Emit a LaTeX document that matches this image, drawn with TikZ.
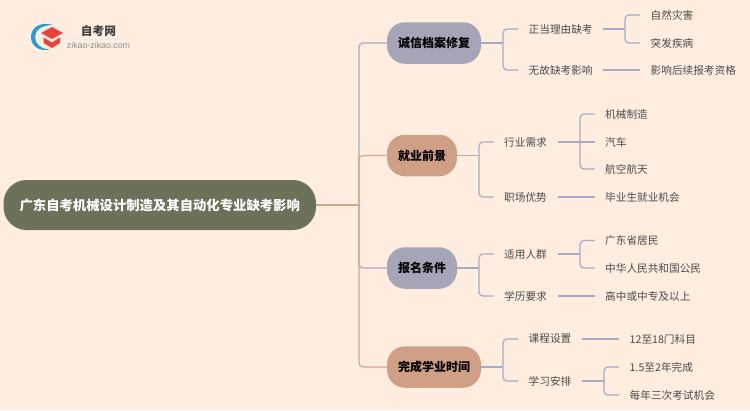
\documentclass[tikz,border=0pt]{standalone}
\usepackage{fontspec}
\usepackage{xcolor}
\setmainfont{Noto Sans CJK SC}
\setsansfont{Liberation Sans}
\definecolor{paper}{HTML}{FFEEE0}
\definecolor{rootgreen}{HTML}{6B7259}
\definecolor{hubblue}{HTML}{A6A5B8}
\definecolor{huborange}{HTML}{CF9F86}
\definecolor{wireblue}{HTML}{A6ABC6}
\definecolor{wireorange}{HTML}{D4A78C}
\definecolor{leafgrey}{HTML}{4A4A4A}
\definecolor{logoblue}{HTML}{2A9BD0}
\definecolor{logored}{HTML}{E8433F}
\tikzset{
    rootbox/.style={fill=rootgreen, rounded corners=23pt, minimum width=312.5pt, minimum height=50pt,
        text=white, font=\fontsize{13.35}{15}\selectfont\bfseries, inner sep=0pt},
    hubbox/.style={rounded corners=18pt, minimum height=41.5pt, inner sep=0pt,
        text=black, font=\fontsize{12}{14}\selectfont\bfseries},
    leaf/.style={anchor=west, inner xsep=10.5pt, inner ysep=0pt, text=leafgrey,
        font=\fontsize{10.65}{13}\selectfont},
    bluewire/.style={draw=wireblue, line width=1.2pt, rounded corners=4pt},
    orangewire/.style={draw=wireorange, line width=1.2pt, rounded corners=4pt}
}
\begin{document}
\begin{tikzpicture}[x=1pt, y=-1pt]
        \useasboundingbox (0,0) rectangle (750,410);
        \fill[paper] (0,0) rectangle (750,410);

        % Logo
        \fill[logoblue] (53,25) .. controls (38,21) and (31,29) .. (31,37) .. controls (31,45) and (38,52) .. (50,49.5)
            .. controls (41,49) and (35,44) .. (35,37) .. controls (35,30) and (42,25) .. (53,25) -- cycle;
        \fill[logored] (52,27) -- (63,33) -- (52,39) -- (41,33) -- cycle;
        \fill[logored] (43.5,37.5) -- (52,42.5) -- (60,37.5) -- (60,43) -- (52,48) -- (43.5,43) -- cycle;
        \node[text=black!75, font=\fontsize{11.7}{13}\selectfont\bfseries] (logoname) at (98.5,31) {自考网};
        \node[text=black!45, font=\sffamily\fontsize{8.8}{10}\selectfont] (logourl) at (98.5,45) {zikao-zikao.com};
        \draw[black!8, line width=0.6pt] (66,39) -- (131,39);

        % Nodi centrali
        \node[rootbox] (root) at (159.75,205) {广东自考机械设计制造及其自动化专业缺考影响};
        \node[hubbox, fill=hubblue, minimum width=94pt] (credit) at (434,43) {诚信档案修复};
        \node[hubbox, fill=huborange, minimum width=70pt] (career) at (422,155.5) {就业前景};
        \node[hubbox, fill=hubblue, minimum width=70pt] (signup) at (422,268) {报名条件};
        \node[hubbox, fill=huborange, minimum width=94pt] (finish) at (434,367) {完成学业时间};

        % Colonne delle linee
        \coordinate (mainbus) at (359,205);
        \coordinate (creditbus) at (503,43);
        \coordinate (careerbus) at (479,155.5);
        \coordinate (signupbus) at (479,268);
        \coordinate (finishbus) at (503,367);
        \coordinate (reasonbus) at (625,29);
        \coordinate (demandbus) at (580,142);
        \coordinate (crowdbus) at (580,254);
        \coordinate (planbus) at (604,381);

        % Primo ramo
        \node[leaf] (reason) at (518,29) {正当理由缺考};
        \node[leaf] (noreason) at (518,70) {无故缺考影响};
        \node[leaf] (disaster) at (640,15) {自然灾害};
        \node[leaf] (illness) at (640,43) {突发疾病};
        \node[leaf] (later) at (640,70) {影响后续报考资格};

        % Secondo ramo
        \node[leaf] (demand) at (493.5,142) {行业需求};
        \node[leaf] (edge) at (493.5,197) {职场优势};
        \node[leaf] (machine) at (594.5,114) {机械制造};
        \node[leaf] (car) at (594.5,142) {汽车};
        \node[leaf] (aero) at (594.5,169) {航空航天};
        \node[leaf] (chance) at (594.5,197) {毕业生就业机会};

        % Terzo ramo
        \node[leaf] (crowd) at (493.5,254) {适用人群};
        \node[leaf] (degree) at (493.5,296) {学历要求};
        \node[leaf] (resident) at (594.5,240.5) {广东省居民};
        \node[leaf] (citizen) at (594.5,268) {中华人民共和国公民};
        \node[leaf] (school) at (594.5,296) {高中或中专及以上};

        % Quarto ramo
        \node[leaf] (course) at (518,339) {课程设置};
        \node[leaf] (plan) at (518,381) {学习安排};
        \node[leaf] (subjects) at (619,339) {12至18门科目};
        \node[leaf] (years) at (619,367) {1.5至2年完成};
        \node[leaf] (exams) at (619,395) {每年三次考试机会};

        % Linee dalla radice
        \draw[bluewire] (mainbus) |- (credit.west);
        \draw[bluewire] (mainbus) |- (signup.west);
        \draw[orangewire] (mainbus) |- (career.west);
        \draw[orangewire] (mainbus) |- (finish.west);
        \draw[orangewire] (root.east) -- (mainbus);

        % Linee dei rami
        \draw[bluewire] (credit.east) -- (creditbus);
        \draw[bluewire] (creditbus) |- (reason.west);
        \draw[bluewire] (creditbus) |- (noreason.west);
        \draw[bluewire] (reason.east) -- (reasonbus);
        \draw[bluewire] (reasonbus) |- (disaster.west);
        \draw[bluewire] (reasonbus) |- (illness.west);
        \draw[bluewire] (noreason.east) -- (later.west);

        \draw[bluewire] (career.east) -- (careerbus);
        \draw[bluewire] (careerbus) |- (demand.west);
        \draw[bluewire] (careerbus) |- (edge.west);
        \draw[bluewire] (demand.east) -- (car.west);
        \draw[bluewire] (demandbus) |- (machine.west);
        \draw[bluewire] (demandbus) |- (aero.west);
        \draw[bluewire] (edge.east) -- (chance.west);

        \draw[bluewire] (signup.east) -- (signupbus);
        \draw[bluewire] (signupbus) |- (crowd.west);
        \draw[bluewire] (signupbus) |- (degree.west);
        \draw[bluewire] (crowd.east) -- (crowdbus);
        \draw[bluewire] (crowdbus) |- (resident.west);
        \draw[bluewire] (crowdbus) |- (citizen.west);
        \draw[bluewire] (degree.east) -- (school.west);

        \draw[bluewire] (finish.east) -- (finishbus);
        \draw[bluewire] (finishbus) |- (course.west);
        \draw[bluewire] (finishbus) |- (plan.west);
        \draw[bluewire] (course.east) -- (subjects.west);
        \draw[bluewire] (plan.east) -- (planbus);
        \draw[bluewire] (planbus) |- (years.west);
        \draw[bluewire] (planbus) |- (exams.west);
    \end{tikzpicture}
\end{document}
